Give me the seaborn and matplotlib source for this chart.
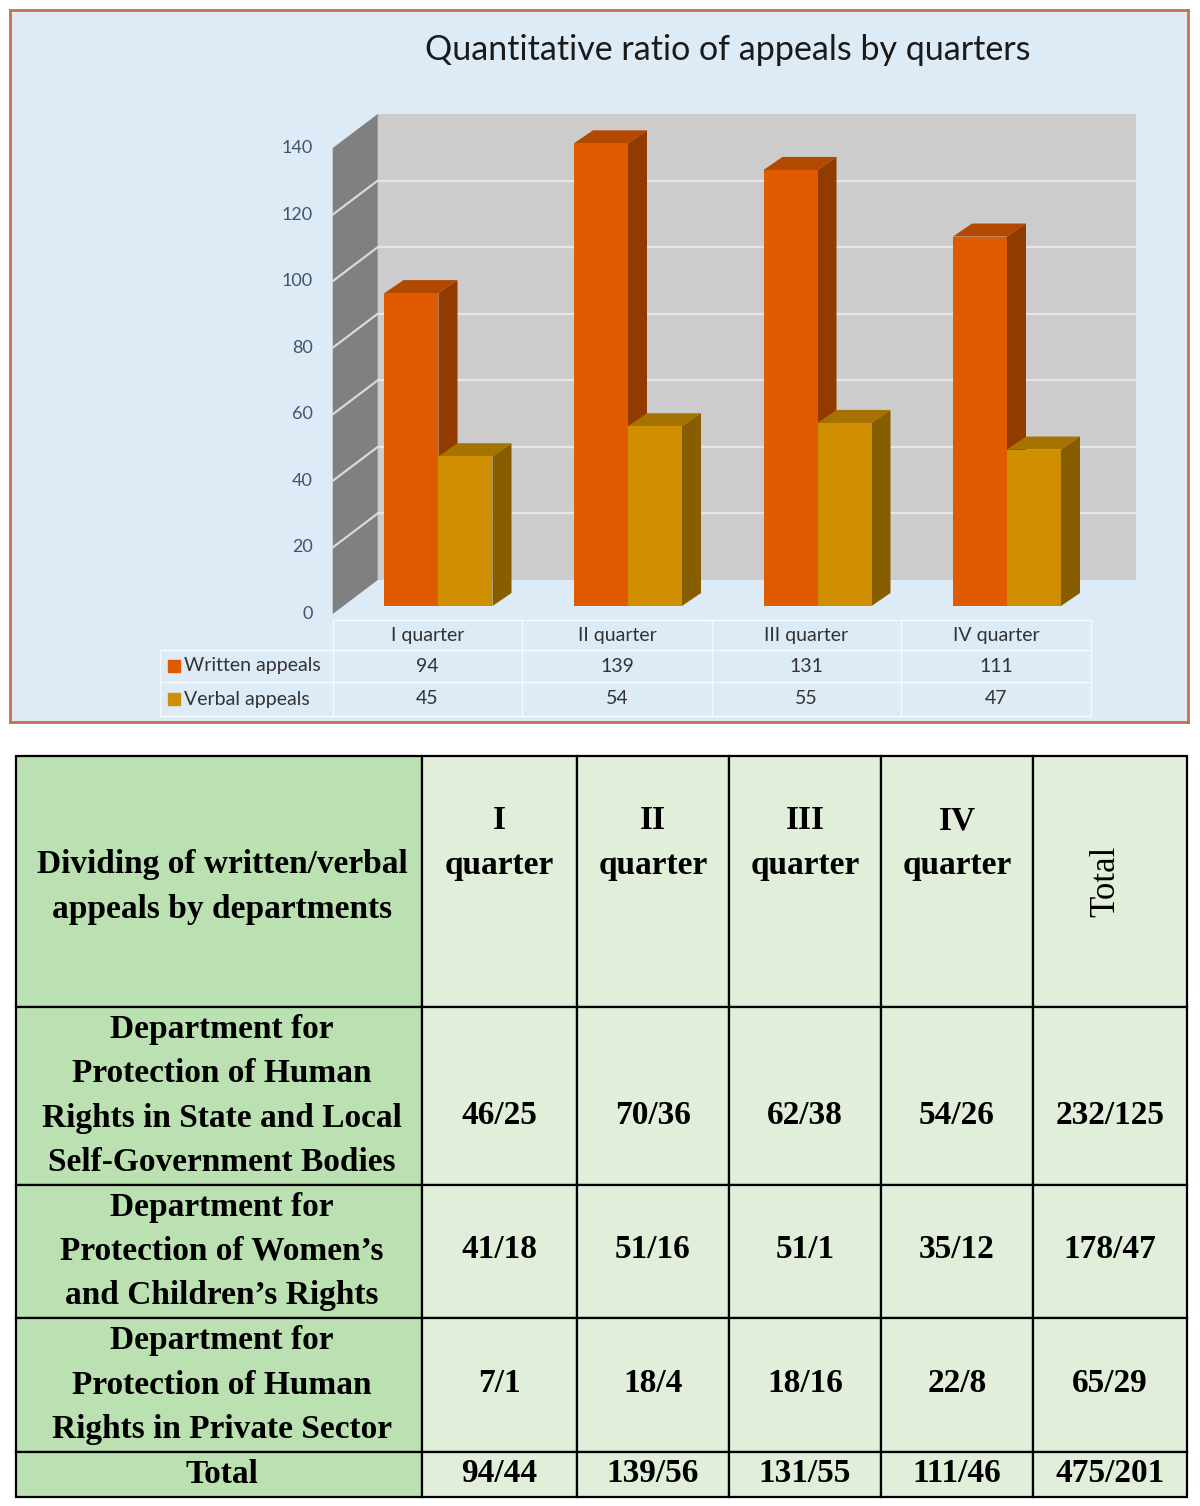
import numpy as np
import pandas as pd
import matplotlib
matplotlib.use("Agg")
import matplotlib.pyplot as plt
from matplotlib.patches import Polygon, Rectangle
import seaborn as sns

# ---- data ----
quarters = ["I quarter", "II quarter", "III quarter", "IV quarter"]
written = [94, 139, 131, 111]
verbal = [45, 54, 55, 47]
series = ["Written appeals", "Verbal appeals"]
yticks = [0, 20, 40, 60, 80, 100, 120, 140]

table_title = "Dividing of written/verbal\nappeals by departments"
table_head = ["I\nquarter", "II\nquarter", "III\nquarter", "IV\nquarter"]
departments = [
    "Department for\nProtection of Human\nRights in State and Local\nSelf-Government Bodies",
    "Department for\nProtection of Women’s\nand Children’s Rights",
    "Department for\nProtection of Human\nRights in Private Sector",
    "Total",
]
dept_state = ["46/25", "70/36", "62/38", "54/26", "232/125"]
dept_women = ["41/18", "51/16", "51/1", "35/12", "178/47"]
dept_private = ["7/1", "18/4", "18/16", "22/8", "65/29"]
totals = ["94/44", "139/56", "131/55", "111/46", "475/201"]

C_W = "#E05A00"
C_V = "#CF8F00"

sns.set_theme(style="white")
plt.rcParams["font.family"] = ["Lato", "DejaVu Sans"]

W, H = 1200, 1506
fig = plt.figure(figsize=(W / 100, H / 100), dpi=100)


def frac(x0, y0, x1, y1):
    return [x0 / W, 1 - y1 / H, (x1 - x0) / W, (y1 - y0) / H]


# ---- top chart ----
ax = fig.add_axes(frac(10, 10, 1188, 722))
X0, XS = 438.5, 189.5          # px of first category, px per category
Y0, YS = 614, 466 / 140        # px of value 0, px per unit


def ux(px):
    return (px - X0) / XS


def uy(py):
    return (Y0 - py) / YS


SHIFT = 11 / XS
LIFT = 8 / YS
DX, DY = 45 / XS, 34 / YS
BDX, BDY = 19 / XS, 13 / YS
BAR_W = 54 / XS

df = pd.DataFrame({
    "quarter": quarters * 2,
    "series": np.repeat(series, len(quarters)),
    "value": written + verbal,
})
sns.barplot(data=df, x="quarter", y="value", hue="series", palette=[C_W, C_V],
            width=BAR_W * 2, bottom=LIFT, saturation=1, errorbar=None,
            legend=False, linewidth=0, zorder=3, ax=ax)

for k, p in enumerate(list(ax.patches)):
    x0, w = p.get_x(), p.get_width()
    y0, h = p.get_y(), p.get_height()
    rgb = np.array(p.get_facecolor()[:3])
    z = 1 if k < len(quarters) else 1.5
    top = y0 + h
    ax.add_patch(Polygon([(x0, top), (x0 + w, top), (x0 + w + BDX, top + BDY),
                          (x0 + BDX, top + BDY)], closed=True,
                         facecolor=rgb * 0.8, edgecolor="none", zorder=z))
    ax.add_patch(Polygon([(x0 + w, y0), (x0 + w + BDX, y0 + BDY),
                          (x0 + w + BDX, top + BDY), (x0 + w, top)], closed=True,
                         facecolor=rgb * 0.65, edgecolor="none", zorder=z))

FL = -0.5 - SHIFT
ncat = len(quarters)
vmax = yticks[-1]
ax.add_patch(Rectangle((FL + DX, DY), ncat, vmax, facecolor="#CCCCCC",
                       edgecolor="none", zorder=0.2))
ax.add_patch(Polygon([(FL, 0), (FL + DX, DY), (FL + DX, vmax + DY), (FL, vmax)],
                     closed=True, facecolor="#808080", edgecolor="none", zorder=0.2))
for v in yticks[1:-1]:
    ax.plot([FL + DX, FL + DX + ncat], [v + DY, v + DY], color="#E6E6E6",
            lw=1.6, zorder=0.5)
    ax.plot([FL, FL + DX], [v, v + DY], color="#D9D9D9", lw=1.6, zorder=0.5)
for v in yticks:
    ax.text(ux(313), v, str(v), ha="right", va="center", fontsize=13,
            color="#44546A")

# data table under the chart
grid_kw = dict(color="white", lw=1, alpha=0.75, zorder=0.4)
rows_px = [620, 650, 682, 716]
xr = FL + ncat
ax.plot([FL, xr], [uy(rows_px[0])] * 2, **grid_kw)
for r in rows_px[1:]:
    ax.plot([ux(160), xr], [uy(r)] * 2, **grid_kw)
for k in range(ncat + 1):
    ax.plot([FL + k] * 2, [uy(rows_px[0]), uy(rows_px[-1])], **grid_kw)
ax.plot([ux(160)] * 2, [uy(rows_px[1]), uy(rows_px[-1])], **grid_kw)

tkw = dict(ha="center", va="center", fontsize=14, color="#333333")
for i, q in enumerate(quarters):
    cx = i - SHIFT
    ax.text(cx, uy(635), q, **tkw)
    ax.text(cx, uy(666), str(written[i]), **tkw)
    ax.text(cx, uy(699), str(verbal[i]), **tkw)
for lab, col, ry in [(series[0], C_W, 666), (series[1], C_V, 699)]:
    ax.plot([ux(174)], [uy(ry)], marker="s", ms=8, color=col, lw=0)
    ax.text(ux(184), uy(ry), lab, ha="left", va="center", fontsize=14,
            color="#333333")

ax.text(0.609, 0.944, "Quantitative ratio of appeals by quarters",
        transform=ax.transAxes, ha="center", va="center", fontsize=24.5,
        color="#1a1a1a")

ax.set_xlim(ux(10), ux(1188))
ax.set_ylim(uy(722), uy(10))
ax.set_xticks([])
ax.set_yticks([])
ax.set_xlabel("")
ax.set_ylabel("")
ax.set_facecolor("#DDEBF7")
for s in ax.spines.values():
    s.set_visible(True)
    s.set_edgecolor("#C8704A")
    s.set_linewidth(2)

# ---- bottom table ----
tax = fig.add_axes(frac(0, 740, 1200, 1506))
tax.set_xlim(0, 1200)
tax.set_ylim(1506, 740)
tax.axis("off")

col_edges = [16, 422, 577, 729, 881, 1033, 1187]
row_edges = [756, 1007, 1185, 1318, 1452, 1497]
G1, G2 = "#BBE0B1", "#E1EFDA"
for r in range(len(row_edges) - 1):
    for c in range(len(col_edges) - 1):
        tax.add_patch(Rectangle((col_edges[c], row_edges[r]),
                                col_edges[c + 1] - col_edges[c],
                                row_edges[r + 1] - row_edges[r],
                                facecolor=G1 if c == 0 else G2,
                                edgecolor="black", lw=1.6))

serif = ["Liberation Serif", "DejaVu Serif"]
fkw = dict(family=serif, fontweight="bold", fontsize=24, ha="center",
           va="center", linespacing=1.55, color="black")
cx = [(col_edges[c] + col_edges[c + 1]) / 2 for c in range(len(col_edges) - 1)]
tax.text(cx[0] + 3, 887, table_title, **fkw)
for c, hd in enumerate(table_head):
    tax.text(cx[c + 1], 843, hd, **fkw)
tax.text(cx[5] - 4, 881, "Total", rotation=90, family=serif, fontsize=25,
         ha="center", va="center", color="black")

body = [dept_state, dept_women, dept_private, totals]
value_y = [1115, 1249, 1383, 1474]
for r, (name, vals) in enumerate(zip(departments, body)):
    ymid = (row_edges[r + 1] + row_edges[r + 2]) / 2
    tax.text(cx[0] + 3, ymid, name, **fkw)
    for c, v in enumerate(vals):
        tax.text(cx[c + 1], value_y[r], v, **fkw)

fig.savefig("out.png", dpi=100)
